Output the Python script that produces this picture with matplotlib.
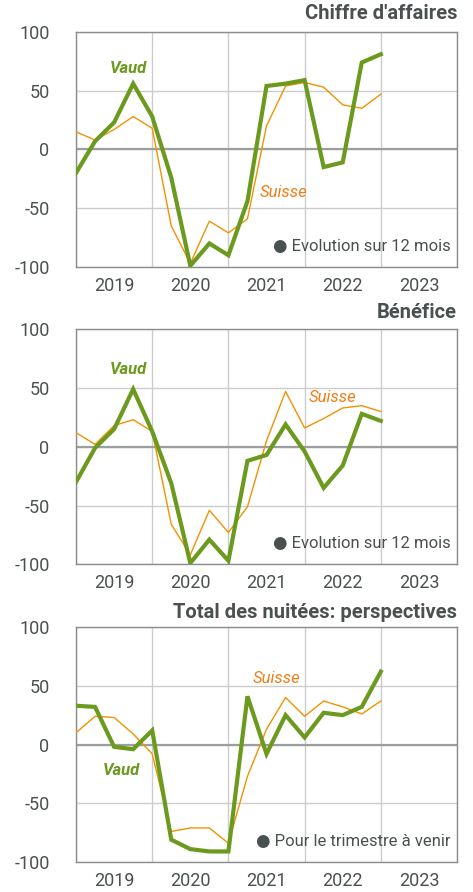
#!/usr/bin/env python3

import matplotlib
matplotlib.use("Agg")
import matplotlib.pyplot as plt
import numpy as np

# quarterly values, Q1 2019 .. Q1 2023
years = ['2019', '2020', '2021', '2022', '2023']
titles = ["Chiffre d'affaires", "Bénéfice", "Total des nuitées: perspectives"]
notes = ["Evolution sur 12 mois", "Evolution sur 12 mois", "Pour le trimestre à venir"]

vaud_ca   = [-20, 7, 23, 56, 28, -24, -99, -80, -90, -44, 54, 56, 59, -15, -11, 74, 81]
suisse_ca = [15, 8, 17, 28, 18, -65, -97, -61, -71, -59, 20, 54, 57, 53, 38, 35, 47]

vaud_ben   = [-30, -1, 15, 49, 13, -31, -99, -79, -97, -12, -7, 19, -4, -35, -16, 28, 22]
suisse_ben = [12, 2, 18, 23, 13, -66, -92, -54, -73, -51, 5, 47, 16, 24, 33, 35, 30]

vaud_nuit   = [33, 32, -2, -4, 12, -81, -89, -91, -91, 41, -8, 25, 6, 27, 25, 32, 62]
suisse_nuit = [10, 24, 23, 9, -8, -74, -71, -71, -84, -27, 13, 40, 24, 37, 32, 26, 37]

vaud_lbl   = [(2.73, 69), (2.73, 66), (2.36, -22)]
suisse_lbl = [(10.87, -37), (13.45, 42), (10.5, 56.5)]

green  = '#6b9a1e'
orange = '#f39200'
txtcol = '#4a5050'
plt.rcParams['font.family'] = ['Roboto', 'DejaVu Sans']

fig = plt.figure(figsize=(4.73, 8.92), dpi=100)
bottoms = [0.7007, 0.3674, 0.0336]
title_y = [1.04, 1.03, 1.02]
data = [(vaud_ca, suisse_ca), (vaud_ben, suisse_ben), (vaud_nuit, suisse_nuit)]

for i in range(3):
  ax = fig.add_axes([0.1607, bottoms[i], 0.8055, 0.2635])
  vaud, suisse = data[i]
  x = np.arange(len(vaud))
  ax.plot(x, suisse, color=orange, lw=1.0, zorder=3)
  ax.plot(x, vaud, color=green, lw=3.0, zorder=4, solid_joinstyle='miter')
  ax.set_xlim(0, 20)
  ax.set_ylim(-100, 100)
  ax.set_xticks([0, 4, 8, 12, 16, 20])
  ax.set_xticklabels([])
  ax.set_xticks([2, 6, 10, 14, 18], minor=True)
  ax.set_xticklabels(years, minor=True)
  ax.set_yticks([-100, -50, 0, 50, 100])
  ax.set_yticklabels(['-100', '-50', '0', '50', '100'])
  ax.tick_params(axis='both', which='both', length=0, labelsize=13, colors=txtcol)
  ax.tick_params(axis='x', which='minor', pad=7)
  ax.tick_params(axis='y', pad=19)
  ax.grid(True, which='major', color='#cccccc', lw=1.0)
  ax.axhline(0, color='#9a9e9e', lw=1.6, zorder=2)
  for s in ax.spines.values():
    s.set_color('#8a8e8e')
    s.set_linewidth(1.0)
  ax.text(1.0, title_y[i], titles[i], transform=ax.transAxes, ha='right', va='bottom',
          fontsize=14.5, fontweight='bold', color=txtcol)
  ax.text(0.983, 0.055, '\u25cf ' + notes[i], transform=ax.transAxes, ha='right', va='bottom',
          fontsize=12, color=txtcol, zorder=6)
  ax.text(vaud_lbl[i][0], vaud_lbl[i][1], 'Vaud', ha='center', va='center', fontsize=12,
          fontweight='bold', fontstyle='italic', color=green, zorder=5)
  ax.text(suisse_lbl[i][0], suisse_lbl[i][1], 'Suisse', ha='center', va='center', fontsize=12,
          fontstyle='italic', color='#f07d14', zorder=5)

fig.savefig('out.png', dpi=100)
plt.close()
